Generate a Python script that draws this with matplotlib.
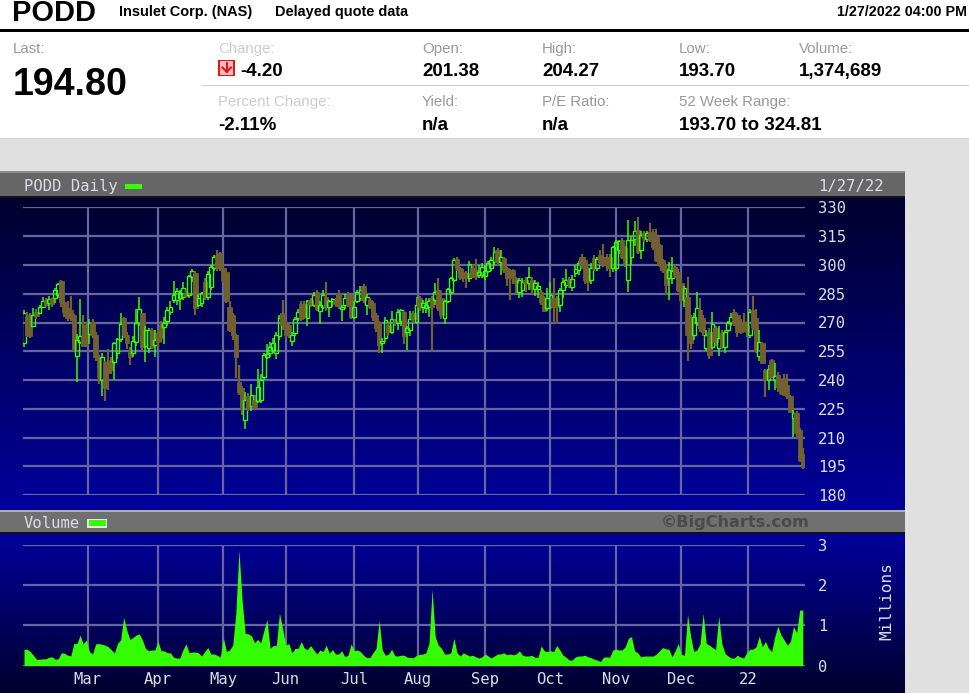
# Recreates the PODD daily quote panel (price candles + volume) from the BigCharts page

import numpy as np
import matplotlib.pyplot as plt
from matplotlib.patches import Rectangle

plt.rcParams['font.family'] = ['Liberation Sans', 'DejaVu Sans']

# Daily prices, one entry per trading day
opens = [
    259.2, 273, 274, 268.2, 275.7, 275.1, 278.3, 281.7, 280, 282.2,
    282.6, 284.3, 291.8, 280.9, 277.4, 276.5, 273.9, 252.6, 260, 262,
    268.7, 263.8, 270.5, 263.5, 252.2, 240, 249.6, 248.8, 250.5, 249.6,
    254.3, 261.6, 272.2, 263.5, 254.8, 254, 260, 269.6, 274.8, 258,
    256.6, 266, 258.3, 264.4, 268.7, 267.5, 271, 275.7, 281.7, 281.7,
    283, 283.5, 285.6, 284.3, 294, 296, 279.1, 280, 291.3, 283.5,
    288.7, 298.2, 305.2, 306.4, 298.2, 296.5, 278.3, 274, 263.5, 239.2,
    235.7, 219, 231.4, 226.2, 229.6, 228.8, 229.6, 241.8, 252, 254.3,
    255.7, 254, 263, 274.8, 269.6, 268.7, 260.6, 264.4, 272.2, 279.6,
    279.6, 272.2, 281.7, 279.1, 286, 276, 278.3, 283.5, 278.3, 281,
    281.7, 285.2, 277, 279.1, 284.3, 284.3, 273, 281, 283, 289,
    279.1, 281.7, 280, 273.9, 270, 259.2, 262, 268.7, 265.2, 271,
    269.6, 271, 275.7, 265, 266, 274.8, 270.5, 282.6, 278, 277.4,
    278.3, 282.6, 281.7, 287, 282.6, 272.2, 281.2, 286.1, 292.2, 303,
    298.2, 296.5, 295.6, 293, 298.2, 297.4, 294.8, 294.8, 294.2, 297,
    298.2, 301.7, 307.8, 301.7, 303.5, 298.2, 297.4, 297.4, 293, 286.1,
    287, 292.2, 290.7, 292.2, 287.3, 287.3, 286, 282.6, 277.4, 278.3,
    282.6, 282.6, 279.1, 287, 289.6, 292.2, 288.3, 295.6, 297.4, 304.3,
    302.6, 298.2, 292.2, 303.5, 298.2, 305.2, 304.3, 304.3, 304.3, 298.2,
    298.2, 308, 313, 308.7, 292, 304.3, 313.8, 318.2, 307.8, 316.5,
    313.5, 317, 317.3, 314.7, 310.4, 302.6, 298.2, 293, 293, 299,
    296.5, 290.4, 281.7, 283.5, 272.2, 263.5, 270, 276.5, 272.2, 256.6,
    265.2, 257.4, 267, 256.6, 264.4, 257.4, 266.1, 269.6, 275.7, 273.9,
    269.6, 270.5, 268.7, 263.5, 276.5, 272.2, 252.3, 259.2, 245.3, 240.1,
    250.5, 240, 242.7, 239.2, 241, 237.5, 231.4, 220, 222.7, 214.1,
    201.38,
]
highs = [
    276.5, 275.7, 275, 277.4, 277, 279.1, 283.5, 283, 284, 283,
    288, 290.5, 292, 282, 281, 284, 274.5, 264, 282.3, 274,
    270, 272, 272, 265, 253, 254, 250, 256, 252, 260,
    262, 275, 273, 265, 257, 263, 277, 283.5, 275, 268,
    267, 267, 266, 266, 271, 273, 278, 281, 291.5, 288,
    287, 291, 287, 295, 298, 297, 285, 286, 293, 297,
    300, 305, 308, 307, 300, 297, 281, 275, 264, 248,
    237, 234, 233, 238, 232, 246, 243, 254, 259, 260,
    262, 265, 274, 282, 271, 270, 265, 273, 277, 281,
    281, 282, 283, 286, 287, 281, 287, 291, 282, 283,
    283, 287, 279, 285, 286, 285, 281, 287, 289, 290,
    285, 283, 281, 275, 271, 262, 273, 270, 276, 272,
    277, 277, 276, 268, 276, 276, 283.5, 284, 282, 283,
    283, 284, 290.5, 293, 285, 282, 288, 294, 303.5, 304,
    299, 298, 297, 302, 300, 303, 300, 301, 300, 302,
    304, 309.4, 309, 308, 304, 299, 298, 298, 294, 293,
    293, 294, 299, 294, 292, 291, 287, 284, 288, 291,
    293, 284, 288, 293, 298, 294, 295, 300, 302, 306,
    304, 299, 301, 305, 304, 308, 311, 306, 306, 310,
    313, 313, 314, 310, 323.7, 315, 323, 325, 318, 318,
    318, 322, 319, 319, 311, 303, 300, 301.5, 304, 300,
    298, 292, 289, 293.5, 274, 275, 286, 283, 274, 266,
    267, 275.7, 268, 268, 266, 266, 271, 275, 277, 275,
    272, 275, 271, 277, 283.6, 277, 266, 260, 246, 248,
    251, 249.1, 244, 240, 243, 243, 232, 224.6, 224, 215,
    204.27,
]
lows = [
    257.4, 262.6, 262, 267.5, 272, 274.8, 277.4, 278, 276.5, 278,
    280, 283, 278, 273, 271, 271, 255, 239, 259, 257,
    257, 259, 262, 250, 238, 231.4, 229, 235, 243, 240,
    251, 260, 262, 256, 248, 252, 258, 268, 255, 249.6,
    254, 256, 252, 257, 260, 259, 268, 274, 280, 279,
    276.5, 282, 283, 283, 291, 274, 278, 278, 282, 282,
    287, 297, 297, 297, 291, 280, 265, 261, 241, 232,
    222, 214.5, 224, 224, 225, 228, 228, 240, 251, 252,
    254, 251, 261, 266, 262, 262, 258, 263, 271, 271,
    272, 268, 278, 278, 276, 269, 277, 276, 272.7, 278,
    278, 277, 271, 277, 278, 272, 272, 280, 281, 280,
    274, 277, 271, 265, 254, 254.3, 260, 263, 264, 268,
    266, 268, 259, 255.5, 263, 270, 269, 276, 275, 275,
    273, 255, 279, 276, 272, 269, 280, 285, 291, 297,
    292, 291, 288, 291, 293, 292, 293, 293, 292, 296,
    297, 300, 300, 295, 296, 289, 282, 290, 284.7, 283,
    283.5, 286, 287, 285, 284, 283, 279, 275.5, 276, 277,
    270, 269, 275.5, 283, 288, 288, 286.5, 294, 295, 298,
    290, 286.6, 290, 297, 297, 300, 299, 297, 294, 296.5,
    297, 306, 303, 299, 286, 300, 310, 306, 303, 312,
    312, 312, 308, 301.5, 299, 296, 284.5, 282, 290, 293,
    286, 280, 278, 250, 256, 261, 268, 265, 263, 255,
    251, 256, 258, 252.3, 256, 254, 265, 268, 268, 262.6,
    264, 265, 262.6, 262, 266, 254, 250, 248.5, 231, 234.6,
    241, 234.6, 233.7, 232, 231.4, 230, 222.7, 210.2, 210, 197.3,
    193.7,
]
closes = [
    274.8, 263.5, 263, 274, 273.4, 278, 281.2, 279.1, 282.4, 279.6,
    287, 289.9, 280.9, 275.7, 272.5, 272.2, 255.7, 261, 262.7, 258,
    258.3, 269.6, 263.5, 252.2, 241.8, 252.2, 235.7, 243.5, 245.3, 259.2,
    261.6, 269.2, 263.5, 259.2, 252.2, 260.6, 269.6, 276.9, 257.4, 266,
    266.1, 257.4, 261, 260, 261.8, 269.6, 276.5, 278.3, 284.3, 286.6,
    285.2, 287.8, 284, 294.2, 297, 277.4, 282.6, 285.2, 283.5, 295.3,
    299, 304, 299, 298.2, 292.2, 281, 266.2, 263.5, 252.2, 234,
    225.3, 229.6, 225.3, 232.3, 226, 236.6, 240, 253, 253.5, 257.4,
    259.2, 263.5, 272.2, 268.7, 263.5, 264.4, 263.5, 271.7, 275.7, 271.7,
    273, 281, 279.6, 284.3, 276.9, 279, 284.3, 278.3, 281, 282,
    279.6, 278.6, 278.3, 283, 279.1, 273, 278.3, 286, 287, 281.7,
    283.5, 278.3, 273, 267, 258.4, 260.6, 271.4, 265.2, 271.7, 269.6,
    275.7, 276.5, 262.7, 267, 272, 272, 279, 278.3, 280, 279.1,
    281, 278.3, 286, 277.4, 274, 281, 287.3, 293, 302.7, 298.2,
    293.5, 293, 293, 300.5, 293.9, 293.5, 296.5, 299, 297, 300.8,
    302.6, 307, 301.7, 304.3, 297.4, 293, 293, 293.5, 290.4, 292.2,
    291.3, 290.4, 293.5, 287.3, 290.4, 289, 280.9, 276.2, 282.6, 284.3,
    278, 278.3, 287, 291.3, 292.2, 290.4, 292.5, 297.7, 300.8, 300,
    292.2, 291.3, 298.2, 298.2, 303, 301.7, 300.8, 300, 298.2, 309.5,
    312, 312.5, 304.3, 300.8, 313, 313, 317.8, 307, 315.6, 314,
    316.5, 313.2, 309.5, 302.6, 300, 297.4, 289.6, 297.4, 297, 294.8,
    287, 281.7, 287.8, 263.5, 259.2, 273, 277.4, 267, 265.2, 263.5,
    253, 269.2, 260, 261.8, 257.4, 265.2, 269.6, 273, 269.6, 265.2,
    265.2, 267.9, 265.2, 275.7, 267.9, 255, 260, 249.1, 240, 245.6,
    241.8, 242, 236.6, 233.1, 232.2, 231.4, 223.5, 223, 212.3, 198.4,
    194.8,
]
# Daily volume in millions of shares
volumes = [
    0.41, 0.41, 0.35, 0.26, 0.16, 0.16, 0.17, 0.17, 0.21, 0.22,
    0.16, 0.17, 0.32, 0.31, 0.26, 0.24, 0.55, 0.55, 0.76, 0.54,
    0.64, 0.35, 0.29, 0.54, 0.55, 0.53, 0.51, 0.47, 0.40, 0.31,
    0.55, 0.64, 1.20, 0.88, 0.65, 0.70, 0.76, 0.79, 0.64, 0.43,
    0.37, 0.39, 0.39, 0.60, 0.37, 0.37, 0.32, 0.32, 0.21, 0.19,
    0.19, 0.39, 0.54, 0.32, 0.34, 0.34, 0.32, 0.24, 0.35, 0.45,
    0.29, 0.29, 0.26, 0.21, 0.69, 0.35, 0.39, 0.51, 1.30, 2.87,
    1.63, 0.80, 0.79, 0.74, 0.57, 0.65, 0.57, 0.87, 1.15, 0.43,
    0.50, 0.50, 1.30, 0.93, 0.51, 0.55, 0.32, 0.43, 0.43, 0.60,
    0.43, 0.40, 0.50, 0.39, 0.29, 0.39, 0.35, 0.51, 0.31, 0.40,
    0.29, 0.29, 0.37, 0.22, 0.26, 0.54, 0.37, 0.39, 0.35, 0.26,
    0.20, 0.20, 0.32, 0.43, 1.12, 0.39, 0.26, 0.28, 0.41, 0.25,
    0.24, 0.26, 0.26, 0.21, 0.20, 0.20, 0.26, 0.28, 0.29, 0.32,
    0.55, 1.89, 0.72, 0.51, 0.43, 0.29, 0.29, 0.32, 0.68, 0.32,
    0.24, 0.32, 0.28, 0.24, 0.26, 0.22, 0.19, 0.22, 0.29, 0.24,
    0.19, 0.24, 0.29, 0.29, 0.32, 0.27, 0.29, 0.27, 0.29, 0.37,
    0.26, 0.24, 0.24, 0.26, 0.21, 0.21, 0.49, 0.37, 0.35, 0.37,
    0.35, 0.50, 0.39, 0.26, 0.21, 0.14, 0.14, 0.22, 0.24, 0.24,
    0.26, 0.22, 0.20, 0.16, 0.14, 0.10, 0.21, 0.22, 0.21, 0.39,
    0.41, 0.39, 0.39, 0.47, 0.68, 0.72, 0.37, 0.32, 0.22, 0.24,
    0.24, 0.24, 0.24, 0.29, 0.37, 0.45, 0.42, 0.41, 0.22, 0.37,
    0.55, 0.28, 0.26, 1.27, 0.72, 0.35, 0.39, 0.54, 1.30, 0.55,
    0.51, 0.45, 0.40, 1.23, 0.55, 0.31, 0.24, 0.19, 0.19, 0.26,
    0.21, 0.19, 0.32, 0.41, 0.41, 0.47, 0.74, 0.47, 0.60, 0.43,
    0.35, 0.72, 0.98, 0.76, 0.64, 0.51, 0.60, 0.97, 0.82, 1.38,
    1.38,
]
assert len(opens) == len(highs) == len(lows) == len(closes) == len(volumes) == 251

price_ticks = [180, 195, 210, 225, 240, 255, 270, 285, 300, 315, 330]
volume_ticks = [0, 1, 2, 3]
month_positions = [20.5, 43, 64, 84, 106, 126.5, 148, 169, 190, 211, 232.5]
month_labels = ['Mar', 'Apr', 'May', 'Jun', 'Jul', 'Aug', 'Sep', 'Oct', 'Nov', 'Dec', '22']

W, H = 969, 693
GRID = '#66669f'
GREEN = '#33ff00'
BROWN = '#72602f'
LABEL = '#dcdce6'
MONO = 'DejaVu Sans Mono'
px = 72 / 100


def pixel_axes(left, right, top, bottom):
    a = fig.add_axes([left / W, 1 - bottom / H, (right - left) / W, (bottom - top) / H])
    a.patch.set_visible(False)
    for s in a.spines.values():
        s.set_visible(False)
    return a


fig = plt.figure(figsize=(W / 100, H / 100), dpi=100, facecolor='#e0e0e0')

# page layer in pixel coordinates
bg = pixel_axes(0, W, 0, H)
bg.set_xlim(0, W)
bg.set_ylim(H, 0)
bg.axis('off')


def box(x0, y0, x1, y1, color, **kw):
    bg.add_patch(Rectangle((x0, y0), x1 - x0, y1 - y0, facecolor=color, edgecolor='none', **kw))


def quote(x, y, s, size, color='black', bold=False):
    bg.text(x, y, s, fontsize=size * px, color=color, va='baseline',
            fontweight='bold' if bold else 'normal')


box(0, 0, W, 138, 'white')
box(0, 29, W, 32, 'black')
box(202, 85, W, 86, '#cccccc')
box(0, 138, W, 139, '#cccccc')

quote(12.5, 21, 'PODD', 29, bold=True)
quote(119, 16, 'Insulet Corp. (NAS)', 14.5, bold=True)
quote(275, 16, 'Delayed quote data', 14.5, bold=True)
bg.text(967, 16, '1/27/2022 04:00 PM', fontsize=14.3 * px, fontweight='bold', ha='right', va='baseline')

quote(13, 53, 'Last:', 15, '#999999')
quote(13, 95, '194.80', 37.6, bold=True)

quote(218, 53, 'Change:', 15, '#cccccc')
quote(218, 106, 'Percent Change:', 15, '#cccccc')
quote(240, 76, '-4.20', 18.8, bold=True)
quote(218, 130, '-2.11%', 18.8, bold=True)

# column labels and values, upper and lower rows
for x, top_label, top_value in [(422, 'Open:', '201.38'), (542, 'High:', '204.27'),
                                (679, 'Low:', '193.70'), (799, 'Volume:', '1,374,689')]:
    quote(x, 53, top_label, 15, '#999999')
    quote(x, 76, top_value, 18.8, bold=True)
for x, low_label, low_value in [(422, 'Yield:', 'n/a'), (542, 'P/E Ratio:', 'n/a'),
                                (679, '52 Week Range:', '193.70 to 324.81')]:
    quote(x, 106, low_label, 15, '#999999')
    quote(x, 130, low_value, 18.8, bold=True)

# little down arrow icon next to the change
box(218.5, 59.5, 235, 76, '#ee1111')
box(220, 61, 233.5, 74.5, '#f8c0c0')
bg.plot([226.7, 226.7], [62.5, 71.5], color='#ee1111', lw=1.5)
bg.plot([222.5, 226.7, 231], [67.5, 72, 67.5], color='#ee1111', lw=1.5)

# chart panels: gradients behind the price and volume plots
top_col = np.array([0, 0, 0x2e]) / 255
low_col = np.array([0, 0, 0x9c]) / 255
t = np.linspace(0, 1, 256).reshape(-1, 1, 1)
grad = top_col + (low_col - top_col) * t
bg.imshow(grad, extent=(0, 905, 510, 197), aspect='auto', zorder=1)
bg.imshow(grad[::-1], extent=(0, 905, 693, 533), aspect='auto', zorder=1)
bg.set_xlim(0, W)
bg.set_ylim(H, 0)

box(0, 171, 905, 197, '#666666', zorder=2)
box(0, 171, 905, 172.5, '#8c8c8c', zorder=2)
box(0, 196, 905, 197.5, '#111122', zorder=2)
box(0, 510, 905, 533, '#707070', zorder=2)
box(0, 510, 905, 511.5, '#b0b0b0', zorder=2)
box(0, 532, 905, 534, '#111111', zorder=2)

bg.text(24, 190.5, 'PODD Daily', fontsize=11.2, family=MONO, color=LABEL, va='baseline', zorder=3)
box(125, 184, 142, 188.5, GREEN, zorder=3)
bg.text(884, 190.5, '1/27/22', fontsize=11.2, family=MONO, color=LABEL, ha='right', va='baseline', zorder=3)
bg.text(24, 527.5, 'Volume', fontsize=11.2, family=MONO, color=LABEL, va='baseline', zorder=3)
box(87.5, 518.5, 107.5, 527.5, '#e6e6e6', zorder=3)
box(89, 520, 106, 526, GREEN, zorder=4)
bg.text(810, 527, '©BigCharts.com', fontsize=11.6, family='DejaVu Sans', fontweight='bold', color='#4a4a4a',
        ha='right', va='baseline', zorder=3)
bg.text(887, 601.5, 'Millions', fontsize=11.6, family=MONO, color=LABEL, rotation=90,
        ha='center', va='center', zorder=3)

# price axes
ax = pixel_axes(23, 805, 207.5, 495)
ax.set_xlim(-0.32, 250.7)
ax.set_ylim(180, 330)
ax.set_yticks(price_ticks)
ax.set_xticks(month_positions)
ax.set_xticklabels([])
ax.yaxis.tick_right()
ax.tick_params(axis='both', length=0)
ax.tick_params(axis='y', pad=9.4, labelsize=11.2, labelcolor=LABEL)
for lab in ax.get_yticklabels():
    lab.set_family(MONO)
ax.grid(True, color=GRID, lw=1.6)
ax.set_axisbelow(True)

for i, (o, h, l, c) in enumerate(zip(opens, highs, lows, closes)):
    if c > o:
        # up days are hollow, the wick stops at the body
        ax.vlines([i, i], [l, c], [o, h], color=GREEN, lw=1.1, zorder=3)
        ax.add_patch(Rectangle((i - 0.6, o), 1.2, c - o, facecolor='none', edgecolor=GREEN,
                               lw=1.0, zorder=3))
    else:
        ax.vlines(i, l, h, color=BROWN, lw=1.6, zorder=3)
        ax.add_patch(Rectangle((i - 0.7, c), 1.4, o - c, facecolor=BROWN, edgecolor=BROWN,
                               lw=0.6, zorder=3))

# volume axes
ax2 = pixel_axes(23, 805, 544.7, 665.7)
ax2.set_xlim(-0.32, 250.7)
ax2.set_ylim(0, 3)
ax2.set_yticks(volume_ticks)
ax2.set_xticks(month_positions)
ax2.set_xticklabels(month_labels, family=MONO)
ax2.yaxis.tick_right()
ax2.tick_params(axis='both', length=0)
ax2.tick_params(axis='y', pad=9.4, labelsize=11.2, labelcolor=LABEL)
ax2.tick_params(axis='x', pad=4.5, labelsize=11.2, labelcolor=LABEL)
for lab in ax2.get_yticklabels():
    lab.set_family(MONO)
ax2.grid(True, color=GRID, lw=1.6)
ax2.set_axisbelow(True)
days = np.arange(len(volumes))
ax2.fill_between(days, volumes, 0, color=GREEN, lw=0, zorder=3)

fig.savefig('out.png', dpi=100, facecolor=fig.get_facecolor())
